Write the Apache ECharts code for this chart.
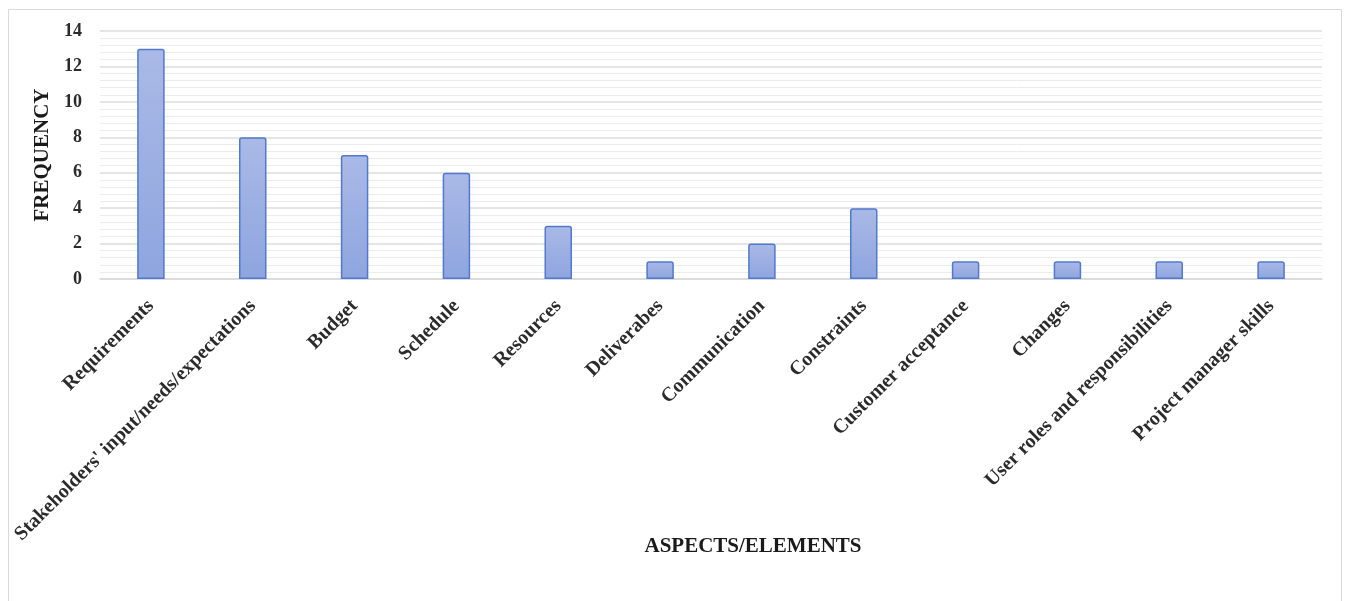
<!DOCTYPE html>
<html>
<head>
<meta charset="utf-8">
<title>Frequency of aspects/elements</title>
<script src="https://cdn.jsdelivr.net/npm/echarts@6/dist/echarts.min.js"></script>
<style>
    html, body { margin: 0; padding: 0; background: #fff; }
    #main { width: 1347px; height: 601px; }
</style>
</head>
<body>
<div id="main"></div>
<script>
// 数据
var categories = ["Requirements", "Stakeholders' input/needs/expectations", "Budget", "Schedule",
    "Resources", "Deliverabes", "Communication", "Constraints", "Customer acceptance",
    "Changes", "User roles and responsibilities", "Project manager skills"];
var frequency = [13, 8, 7, 6, 3, 1, 2, 4, 1, 1, 1, 1];
var yTicks = [0, 2, 4, 6, 8, 10, 12, 14];

var serif = "'Liberation Serif', 'DejaVu Serif', serif";

var chart = echarts.init(document.getElementById("main"));
var option = {
    animation: false,
    graphic: [{
        type: "rect",
        shape: { x: 8.5, y: 9.5, width: 1333, height: 600 },
        style: { fill: "none", stroke: "#d9d9d9", lineWidth: 1 },
        silent: true
    }],
    grid: {
        left: 100,
        right: 25,
        top: 31,
        bottom: 322
    },
    xAxis: {
        type: "category",
        data: categories,
        name: "ASPECTS/ELEMENTS",
        nameLocation: "middle",
        nameGap: 257,
        nameMoveOverlap: false,
        nameTextStyle: {
            fontFamily: serif, fontWeight: "bold", fontSize: 21, color: "#1a1a1a",
            padding: [0, 0, 0, 84] //标题偏右
        },
        axisLine: { lineStyle: { color: "#d9d9d9", width: 1.5 } },
        axisTick: { show: false },
        axisLabel: {
            rotate: 45,
            interval: 0,
            margin: 24,
            fontFamily: serif,
            fontWeight: "bold",
            fontSize: 20,
            color: "#2b2b2b"
        }
    },
    yAxis: {
        type: "value",
        min: yTicks[0],
        max: yTicks[yTicks.length - 1],
        interval: 2,
        name: "FREQUENCY",
        nameLocation: "middle",
        nameGap: 43,
        nameTextStyle: { fontFamily: serif, fontWeight: "bold", fontSize: 21, color: "#1a1a1a" },
        axisLine: { show: false },
        axisTick: { show: false },
        axisLabel: {
            margin: 18,
            fontFamily: serif,
            fontWeight: "bold",
            fontSize: 18,
            color: "#2b2b2b"
        },
        splitLine: { lineStyle: { color: "#dcdcdc", width: 1.5 } },
        minorTick: { show: false, splitNumber: 5 },
        minorSplitLine: { show: true, lineStyle: { color: "#ececec", width: 1 } }
    },
    series: [{
        type: "bar",
        data: frequency,
        barWidth: "27%",
        itemStyle: {
            color: new echarts.graphic.LinearGradient(0, 0, 0, 1, [
                { offset: 0, color: "#aab9e6" },
                { offset: 1, color: "#8ea5df" }
            ]),
            borderColor: "#5079d0",
            borderWidth: 1.5,
            borderRadius: [2, 2, 0, 0]
        }
    }]
};
chart.setOption(option);
</script>
</body>
</html>
